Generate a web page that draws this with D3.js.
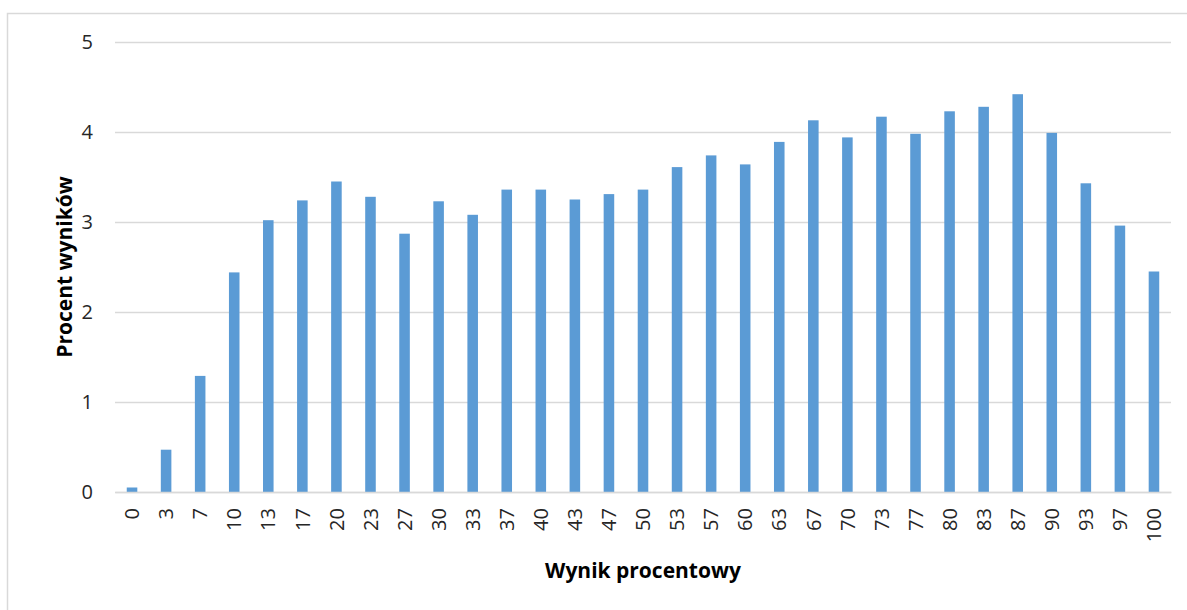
<!DOCTYPE html>
<html>
<head>
<meta charset="utf-8">
<script src="https://cdn.jsdelivr.net/npm/d3@7"></script>
<style>
  body { margin: 0; background: #fff; }
  svg { display: block; }
</style>
</head>
<body>
<svg id="chart" width="1187" height="610"></svg>
<script>
// score categories (percent) and share of results
var categories = ["0","3","7","10","13","17","20","23","27","30","33","37","40","43","47","50",
                  "53","57","60","63","67","70","73","77","80","83","87","90","93","97","100"];
var values = [0.05, 0.47, 1.29, 2.44, 3.02, 3.24, 3.45, 3.28, 2.87, 3.23, 3.08, 3.36, 3.36, 3.25, 3.31, 3.36,
              3.61, 3.74, 3.64, 3.89, 4.13, 3.94, 4.17, 3.98, 4.23, 4.28, 4.42, 3.99, 3.43, 2.96, 2.45];
var yTicks = [0, 1, 2, 3, 4, 5];
var xTitle = "Wynik procentowy",
    yTitle = "Procent wyników";

var svg = d3.select("#chart"),
    plotLeft = 115, plotRight = 1171, plotTop = 42, plotBottom = 492;

var gridColor = "#d9d9d9",
    barColor = "#5b9bd5",
    textColor = "#262626";

// outer chart frame
svg.append("rect")
    .attr("x", 7.5).attr("y", 13.5)
    .attr("width", 1300).attr("height", 800)
    .attr("fill", "none")
    .attr("stroke", gridColor)
    .attr("stroke-width", 1.5);

var x = d3.scaleBand()
    .domain(categories)
    .range([plotLeft, plotRight])
    .paddingInner(0.69)
    .paddingOuter(0.345);

var y = d3.scaleLinear()
    .domain([0, 5])
    .range([plotBottom, plotTop]);

// y axis with gridlines
var gy = svg.append("g")
    .attr("transform", "translate(" + plotLeft + ",0)")
    .call(d3.axisLeft(y).tickValues(yTicks).tickFormat(d3.format("d"))
            .tickSize(-(plotRight - plotLeft)).tickPadding(22));
gy.select(".domain").remove();
gy.selectAll(".tick line")
    .attr("stroke", gridColor)
    .attr("stroke-width", 1.5);
gy.selectAll(".tick text")
    .attr("fill", textColor)
    .style("font-family", "'Open Sans', sans-serif")
    .style("font-size", "20px");

// bars
svg.selectAll(".bar")
  .data(values)
  .enter().append("rect")
    .attr("class", "bar")
    .attr("x", (d, i) => x(categories[i]))
    .attr("width", x.bandwidth())
    .attr("y", d => y(d))
    .attr("height", d => y(0) - y(d))
    .attr("fill", barColor);

// x axis
var gx = svg.append("g")
    .attr("transform", "translate(0," + plotBottom + ")")
    .call(d3.axisBottom(x).tickSize(0));
gx.select(".domain")
    .attr("stroke", gridColor)
    .attr("stroke-width", 1.5);
gx.selectAll(".tick text")
    .attr("fill", textColor)
    .attr("y", 0).attr("x", 0)
    .attr("dy", "0.36em")
    .attr("transform", "translate(0,16) rotate(-90)")
    .attr("text-anchor", "end")
    .style("font-family", "'Open Sans', sans-serif")
    .style("font-size", "20px");

// axis titles
svg.append("text")
    .attr("x", 643).attr("y", 578)
    .attr("text-anchor", "middle")
    .attr("fill", "#000")
    .style("font-family", "'Open Sans', sans-serif")
    .style("font-weight", "bold")
    .style("font-size", "21px")
    .text(xTitle);

svg.append("text")
    .attr("transform", "translate(72,267) rotate(-90)")
    .attr("text-anchor", "middle")
    .attr("fill", "#000")
    .style("font-family", "'Open Sans', sans-serif")
    .style("font-weight", "bold")
    .style("font-size", "21px")
    .text(yTitle);
</script>
</body>
</html>
